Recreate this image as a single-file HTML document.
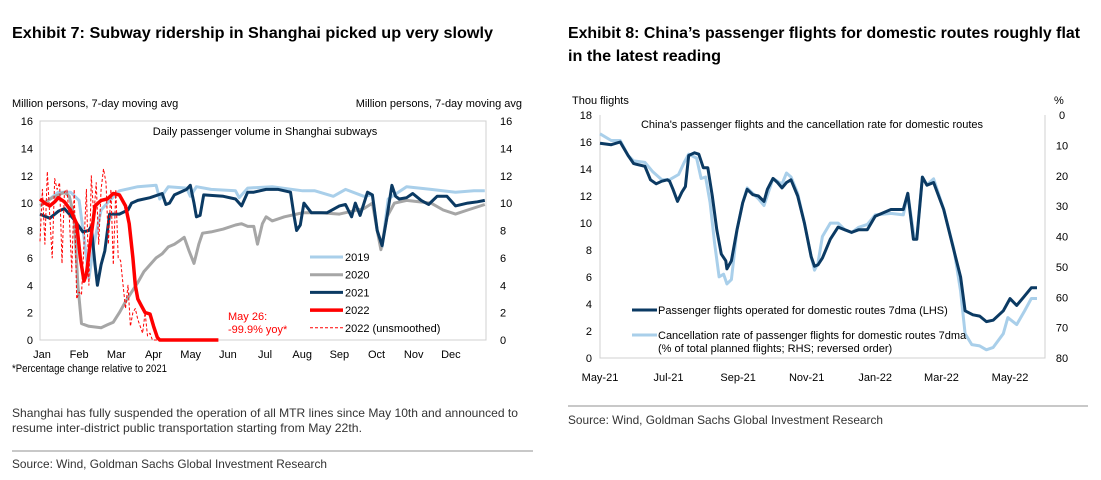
<!DOCTYPE html>
<html><head><meta charset="utf-8"><style>
body{margin:0;background:#fff;}
svg{display:block;font-family:"Liberation Sans",Arial,sans-serif;}
</style></head><body>
<svg id="s" width="1101" height="480">
<text x="12" y="38" font-size="16" font-weight="bold" textLength="481" lengthAdjust="spacingAndGlyphs">Exhibit 7: Subway ridership in Shanghai picked up very slowly</text>
<text x="568" y="38" font-size="16" font-weight="bold" textLength="512" lengthAdjust="spacingAndGlyphs">Exhibit 8: China’s passenger flights for domestic routes roughly flat</text>
<text x="568" y="61" font-size="16" font-weight="bold" textLength="153" lengthAdjust="spacingAndGlyphs">in the latest reading</text>

<text x="12" y="107" font-size="11">Million persons, 7-day moving avg</text>
<text x="522" y="107" font-size="11" text-anchor="end">Million persons, 7-day moving avg</text>
<text x="265" y="135" font-size="11" text-anchor="middle">Daily passenger volume in Shanghai subways</text>
<g id="c1"></g>
<text x="12" y="372" font-size="11" textLength="155" lengthAdjust="spacingAndGlyphs">*Percentage change relative to 2021</text>
<text x="12" y="417" font-size="12" textLength="506" lengthAdjust="spacingAndGlyphs" fill="#333">Shanghai has fully suspended the operation of all MTR lines since May 10th and announced to</text>
<text x="12" y="432" font-size="12" textLength="350" lengthAdjust="spacingAndGlyphs" fill="#333">resume inter-district public transportation starting from May 22th.</text>
<line x1="12" y1="451" x2="533" y2="451" stroke="#c8c8c8" stroke-width="2"/>
<text x="12" y="468" font-size="12" textLength="315" lengthAdjust="spacingAndGlyphs" fill="#333">Source: Wind, Goldman Sachs Global Investment Research</text>

<text x="572" y="104" font-size="11">Thou flights</text>
<text x="1054" y="104" font-size="11">%</text>
<text x="812" y="128" font-size="11" text-anchor="middle">China's passenger flights and the cancellation rate for domestic routes</text>
<g id="c2"></g>
<line x1="568" y1="406" x2="1088" y2="406" stroke="#c8c8c8" stroke-width="2"/>
<text x="568" y="424" font-size="12" textLength="315" lengthAdjust="spacingAndGlyphs" fill="#333">Source: Wind, Goldman Sachs Global Investment Research</text>
</svg>
<script>
// ===== Chart 1 data (x = day of year) =====
const months1 = ["Jan","Feb","Mar","Apr","May","Jun","Jul","Aug","Sep","Oct","Nov","Dec"];
const yTicks1 = [0,2,4,6,8,10,12,14,16];
const d2019 = [0,8,15,25,32,36,40,44,50,55,65,80,95,98,105,120,123,128,140,160,163,170,190,215,225,240,250,265,272,276,280,285,300,320,340,355,364];
const v2019 = [9.8,10.3,10.8,10.8,10.2,7.5,4.5,7,9.5,10,10.9,11.2,11.3,10.3,11.2,11.1,10.5,11.2,11,10.9,10.4,11.1,11.2,10.9,10.9,10.5,11,10.5,10.6,8,6.8,10.3,11.2,11,10.8,10.9,10.9];
const d2020 = [0,10,20,24,28,31,34,40,50,55,60,65,70,75,80,85,90,95,100,105,110,115,118,122,126,130,133,140,150,160,165,170,175,178,182,185,190,200,210,215,230,245,255,265,272,276,279,284,290,300,310,320,330,340,350,364];
const v2020 = [9.8,10.4,10.8,10.5,9,4,1.2,1,0.9,1.1,1.3,2,2.8,3.5,4.2,5,5.5,6,6.3,6.8,7,7.3,7.5,6.5,5.6,7,7.8,7.9,8.1,8.4,8.5,8.3,8.3,7,8.5,9,8.7,9,9.2,9.3,9.3,9.2,9.4,9.6,10,8,6.6,9,10,10.2,10.1,10,9.5,9.2,9.5,9.9];
const d2021 = [0,8,15,20,28,35,40,42,45,47,50,53,57,65,72,75,80,90,100,103,106,110,120,123,126,128,131,134,150,160,165,170,175,185,195,205,208,210,213,216,222,235,245,250,255,258,262,268,272,276,280,284,288,291,294,300,305,312,318,325,333,340,350,358,364];
const v2021 = [9.2,8.9,9.4,9.6,8.8,7.9,8,8.3,5.5,4,5.5,6.5,9.2,9.2,9.5,10,10.2,10.4,10.7,9.9,10,10.6,11,11.3,10,9,9.1,10.6,10.5,10.3,9.8,10.8,10.8,11,11,10.8,9,8,8.4,10,9.3,9.3,9.8,9.9,9,10,9.1,10.8,10.6,8,6.9,9,11.3,10.5,10.3,10.4,10.7,10.2,9.9,10.5,10.5,9.8,10,10.1,10.2];
const d2022 = [0,4,8,12,15,20,25,30,33,36,38,41,45,50,55,60,65,70,73,76,78,80,83,86,90,93,96,98,110,146];
const v2022 = [10.3,10,9.8,10.1,10.4,10.1,9.5,8.5,6,4.3,4.8,7,9.8,10.2,10.3,10.7,10.6,9.8,8.5,6,4,3,2.5,2,1.9,1,0.2,0,0,0];
const d2022u = [0,2,4,6,8,10,12,14,16,18,20,22,24,26,28,30,32,34,36,38,40,42,44,46,48,50,52,54,56,58,60,62,64,66,68,70,72,74,76,78,80,82,84,86,88,90,92,94,96,98,100];
const v2022u = [7.2,11,7,12.3,9,6,11.8,11,11.5,5.6,10.8,11,9,5,11,3,3.5,3.3,7,11,4,12,9,11.5,7,11,12.5,11.5,7,11,5.5,11,6,5.8,4,2.3,4,1,2,2.3,1.5,1,0.5,2,0.3,0.5,0,0,0,0,0];

// ===== Chart 2 data (x = days since 1 May 2021) =====
const months2 = ["May-21","Jul-21","Sep-21","Nov-21","Jan-22","Mar-22","May-22"];
const monthDays2 = [0,61,123,184,245,304,365];
const yTicksL2 = [0,2,4,6,8,10,12,14,16,18];
const yTicksR2 = [0,10,20,30,40,50,60,70,80];
const dF = [0,10,18,25,30,40,45,50,55,60,62,65,69,73,76,79,84,88,92,96,100,104,108,112,113,117,122,127,131,136,141,146,149,154,158,162,166,170,176,182,188,191,194,198,205,212,218,224,230,238,245,259,270,274,279,282,287,291,297,306,315,321,325,332,338,344,350,359,365,371,377,384,389];
const vF = [15.9,15.8,16,15,14.4,14.2,13.2,12.9,13.1,13.2,13.1,12.5,11.6,12.3,12.7,15,15.2,15.1,14.1,14.1,12,9.5,7.7,7.2,6.6,7.2,9.5,11.5,12.5,12.1,12,11.6,12.5,13.3,13,12.6,13,13.2,12,10,7.5,6.8,6.9,7.4,8.8,9.7,9.5,9.3,9.5,9.5,10.5,11,11,12.2,8.8,8.8,13.4,12.8,13,11,8,6,3.5,3.2,3.1,2.7,2.8,3.5,4.4,3.9,4.5,5.2,5.2];
const dC = [0,10,18,25,30,40,47,55,62,70,75,79,86,90,94,98,102,106,110,113,117,122,127,131,141,146,154,162,166,170,176,182,188,191,194,198,205,212,218,224,230,238,245,259,270,274,280,282,287,291,297,306,315,321,325,331,338,344,350,359,363,371,378,384,389];
const vC = [6.2,8.4,8.4,13.3,15.1,15.6,18.7,21.3,21.3,19.6,15.6,12.9,14.2,20.9,20.4,28.9,42.2,53.3,52.4,55.6,54.2,37.8,28.9,24,27.6,29.8,20.9,22.7,19.1,20.4,25.8,35.6,46.7,51.1,48.9,40,35.6,35.6,37.8,38.7,37,36,32.9,32.4,32.9,26,40.9,40.4,20.4,23,21,31,44,58,72,75.6,76,77.3,76.5,72,66.7,69,64.5,60.4,60.4];

const NS="http://www.w3.org/2000/svg";
function mk(parent,tag,attrs,text){const e=document.createElementNS(NS,tag);for(const k in attrs)e.setAttribute(k,attrs[k]);if(text!==undefined)e.textContent=text;parent.appendChild(e);return e;}
function pathD(xs,ys,fx,fy){return xs.map((d,i)=>(i?"L":"M")+fx(d).toFixed(1)+","+fy(ys[i]).toFixed(1)).join("");}

// ---- Chart 1 ----
const g1=document.getElementById("c1");
const X1=d=>40+d*(446/365), Y1=v=>340-v*(219/16);
let e;
e=mk(g1,"rect",{x:40,y:121,width:446,height:219,fill:"none",stroke:"#d0d0d0"});


yTicks1.forEach(t=>{
  e=mk(g1,"text",{x:33,y:Y1(t)+4,"font-size":11,"text-anchor":"end"},t);
  
  
  e=mk(g1,"text",{x:500,y:Y1(t)+4,"font-size":11,"text-anchor":"start"},t);
  
  
});
months1.forEach((m,i)=>{
  e=mk(g1,"text",{x:X1(i*30.42)+2,y:358,"font-size":11,"text-anchor":"middle"},m);
  
  
});
const ser1=[[d2019,v2019,"#a9cfea",3,null,"line-2019"],[d2020,v2020,"#a6a6a6",3,null,"line-2020"],[d2021,v2021,"#0b3a63",3,null,"line-2021"],[d2022u,v2022u,"#ff0000",1,"3,2","line-2022-unsmoothed"],[d2022,v2022,"#ff0000",3.5,null,"line-2022"]];
ser1.forEach(s=>{
  const a={d:pathD(s[0],s[1],X1,Y1),fill:"none",stroke:s[2],"stroke-width":s[3],"stroke-linejoin":"round"};
  if(s[4])a["stroke-dasharray"]=s[4];
  e=mk(g1,"path",a);
  
  
});
const leg1=[["2019","#a9cfea",3,null],["2020","#a6a6a6",3,null],["2021","#0b3a63",3,null],["2022","#ff0000",3.5,null],["2022 (unsmoothed)","#ff0000",1,"3,2"]];
leg1.forEach((l,i)=>{
  const y=257+i*17.7;
  const a={x1:310,y1:y,x2:343,y2:y,stroke:l[1],"stroke-width":l[2]};
  if(l[3])a["stroke-dasharray"]=l[3];
  e=mk(g1,"line",a);
  
  
  e=mk(g1,"text",{x:345,y:y+4,"font-size":11},l[0]);
  
  
});
e=mk(g1,"text",{x:228,y:320,"font-size":11,fill:"#ff0000"},"May 26:");


e=mk(g1,"text",{x:228,y:333,"font-size":11,fill:"#ff0000"},"-99.9% yoy*");



// ---- Chart 2 ----
const g2=document.getElementById("c2");
const X2=d=>600+d*(410/365), YL=v=>358-v*(243/18), YR=p=>115+p*(243/80);
e=mk(g2,"path",{d:"M600,115V358H1045V115",fill:"none",stroke:"#d0d0d0"});


yTicksL2.forEach(t=>{
  e=mk(g2,"text",{x:592,y:YL(t)+4,"font-size":11,"text-anchor":"end"},t);
  
  
});
yTicksR2.forEach(t=>{
  e=mk(g2,"text",{x:1062,y:YR(t)+4,"font-size":11,"text-anchor":"middle"},t);
  
  
});
months2.forEach((m,i)=>{
  e=mk(g2,"text",{x:X2(monthDays2[i]),y:381,"font-size":11,"text-anchor":"middle"},m);
  
  
});
e=mk(g2,"path",{d:pathD(dC,vC,X2,YR),fill:"none",stroke:"#a9cfea","stroke-width":3,"stroke-linejoin":"round"});


e=mk(g2,"path",{d:pathD(dF,vF,X2,YL),fill:"none",stroke:"#0b3a63","stroke-width":3,"stroke-linejoin":"round"});


e=mk(g2,"line",{x1:632,y1:310,x2:657,y2:310,stroke:"#0b3a63","stroke-width":3});


e=mk(g2,"text",{x:658,y:314,"font-size":11},"Passenger flights operated for domestic routes 7dma (LHS)");


e=mk(g2,"line",{x1:632,y1:335,x2:657,y2:335,stroke:"#a9cfea","stroke-width":3});


e=mk(g2,"text",{x:658,y:339,"font-size":11},"Cancellation rate of passenger flights for domestic routes 7dma");


e=mk(g2,"text",{x:658,y:352,"font-size":11},"(% of total planned flights; RHS; reversed order)");


</script>
</body></html>
